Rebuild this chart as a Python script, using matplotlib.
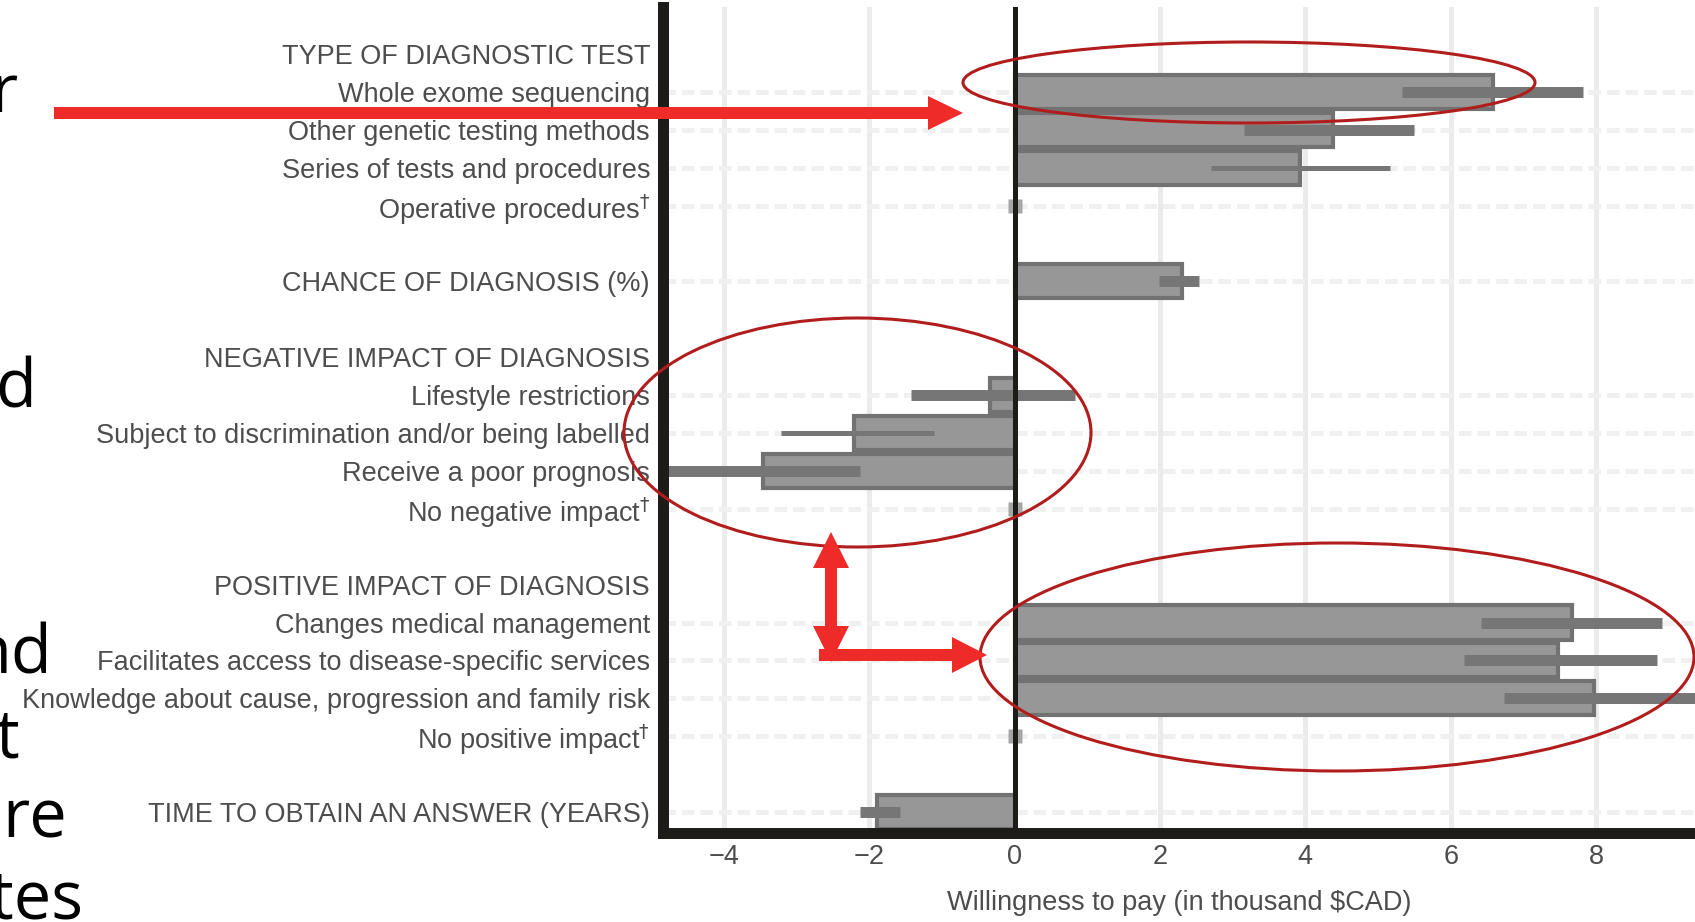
import numpy as np
import matplotlib
matplotlib.use("Agg")
import matplotlib.pyplot as plt
from matplotlib.patches import Ellipse, FancyArrow

# ---------------- data ----------------
row_labels = [
    "TYPE OF DIAGNOSTIC TEST",
    "Whole exome sequencing",
    "Other genetic testing methods",
    "Series of tests and procedures",
    "Operative procedures$^{\\dagger}$",
    "",
    "CHANCE OF DIAGNOSIS (%)",
    "",
    "NEGATIVE IMPACT OF DIAGNOSIS",
    "Lifestyle restrictions",
    "Subject to discrimination and/or being labelled",
    "Receive a poor prognosis",
    "No negative impact$^{\\dagger}$",
    "",
    "POSITIVE IMPACT OF DIAGNOSIS",
    "Changes medical management",
    "Facilitates access to disease-specific services",
    "Knowledge about cause, progression and family risk",
    "No positive impact$^{\\dagger}$",
    "",
    "TIME TO OBTAIN AN ANSWER (YEARS)",
]
nan = np.nan
wtp_mean = [nan, 6.58, 4.38, 3.92, 0.0, nan, 2.30, nan, nan, -0.34, -2.21, -3.46, 0.0,
            nan, nan, 7.67, 7.48, 7.97, 0.0, nan, -1.89]
ci_lower = [nan, 5.33, 3.16, 2.70, nan, nan, 1.99, nan, nan, -1.42, -3.21, -5.10, nan,
            nan, nan, 6.42, 6.18, 6.73, nan, nan, -2.13]
ci_upper = [nan, 7.82, 5.50, 5.17, nan, nan, 2.54, nan, nan, 0.83, -1.11, -2.13, nan,
            nan, nan, 8.90, 8.84, 9.60, nan, nan, -1.57]
x_ticks = [-4, -2, 0, 2, 4, 6, 8]
x_label = "Willingness to pay (in thousand \\$CAD)"
slide_fragments = ["r", "d", "nd", "t", "re", "tes"]

# ---------------- style ----------------
thin_ci_rows = {"Series of tests and procedures",
                "Subject to discrimination and/or being labelled"}
fragment_pos = [(18, 112), (36, 407), (52, 673), (20, 757), (67, 837), (83, 918)]

plt.rcParams['font.family'] = ['Liberation Sans', 'DejaVu Sans']
W, H = 1695, 922
fig = plt.figure(figsize=(W / 100, H / 100), dpi=100)
fig.patch.set_facecolor('white')

ax_left, ax_bottom_px, ax_top_px = 662.5, 832.5, 7
ax = fig.add_axes([ax_left / W, (H - ax_bottom_px) / H, (W - ax_left) / W,
                   (ax_bottom_px - ax_top_px) / H])
ax.set_xlim(-4.842, 9.36)
ax.set_ylim(20.54, -1.24)

ink = '#1e1c18'
txt = '#4d4d4d'

n = len(row_labels)
ypos = np.arange(n)

for xt in x_ticks:
    if xt != 0:
        ax.axvline(xt, color='#ebebeb', lw=3.6, zorder=0)

for i, lab in enumerate(row_labels):
    if lab and not np.isnan(wtp_mean[i]):
        ax.axhline(i, color='#f0f0f0', lw=3.6, ls=(0, (2.5, 1.2)), zorder=0.5)

for i in range(n):
    m = wtp_mean[i]
    if np.isnan(m):
        continue
    if m == 0:
        ax.plot(0, i, marker='s', ms=10, color='#a5a5a5', mec='none', zorder=3)
    else:
        ax.barh(i, m, height=0.9, color='#979797', edgecolor='#727272',
                linewidth=3.0, zorder=2)
    if not np.isnan(ci_lower[i]):
        lw = 3.6 if row_labels[i] in thin_ci_rows else 7.9
        ax.hlines(i, ci_lower[i], ci_upper[i], color='#767676', lw=lw, zorder=3,
                  capstyle='butt')

ax.axvline(0, color=ink, lw=3.6, zorder=4)

for s in ['top', 'right']:
    ax.spines[s].set_visible(False)
for s in ['left', 'bottom']:
    ax.spines[s].set_linewidth(7.9)
    ax.spines[s].set_color(ink)
    ax.spines[s].set_zorder(5)

ax.set_yticks(ypos)
ax.set_yticklabels(row_labels, fontsize=19.5, color=txt)
ax.tick_params(axis='y', length=0, pad=9)
ax.set_xticks(x_ticks)
ax.set_xticklabels([f"{t}".replace('-', '\u2212') for t in x_ticks])
ax.tick_params(axis='x', length=0, pad=8, labelsize=19.5, labelcolor=txt)
ax.set_xlabel(x_label, fontsize=19.5, color=txt)
ax.xaxis.set_label_coords(0.5, -0.0695)

# ---------------- overlay annotations (pixel coordinates) ----------------
ov = fig.add_axes([0, 0, 1, 1])
ov.set_xlim(0, W)
ov.set_ylim(H, 0)
ov.axis('off')
ov.patch.set_alpha(0)
ov.set_zorder(10)

dark_red = '#b11d1d'
red = '#ee2b29'
for (cx, cy, w, h) in [(1249, 82.5, 572, 81), (857.5, 432.5, 467, 229), (1337, 657, 714, 228)]:
    ov.add_patch(Ellipse((cx, cy), w, h, fill=False, ec=dark_red, lw=2.2))

ov.add_patch(FancyArrow(54, 113, 909, 0, width=12, head_width=34, head_length=35,
                        length_includes_head=True, color=red, lw=0))
ov.add_patch(FancyArrow(831, 597, 0, -65, width=12, head_width=36, head_length=36,
                        length_includes_head=True, color=red, lw=0))
ov.add_patch(FancyArrow(831, 597, 0, 65, width=12, head_width=36, head_length=36,
                        length_includes_head=True, color=red, lw=0))
ov.add_patch(FancyArrow(819, 655, 168, 0, width=12, head_width=36, head_length=35,
                        length_includes_head=True, color=red, lw=0))

for s, (x, y) in zip(slide_fragments, fragment_pos):
    ov.text(x, y, s, ha='right', va='baseline', fontsize=48, family='Open Sans',
            color='black')

fig.savefig('out.png', dpi=100)
